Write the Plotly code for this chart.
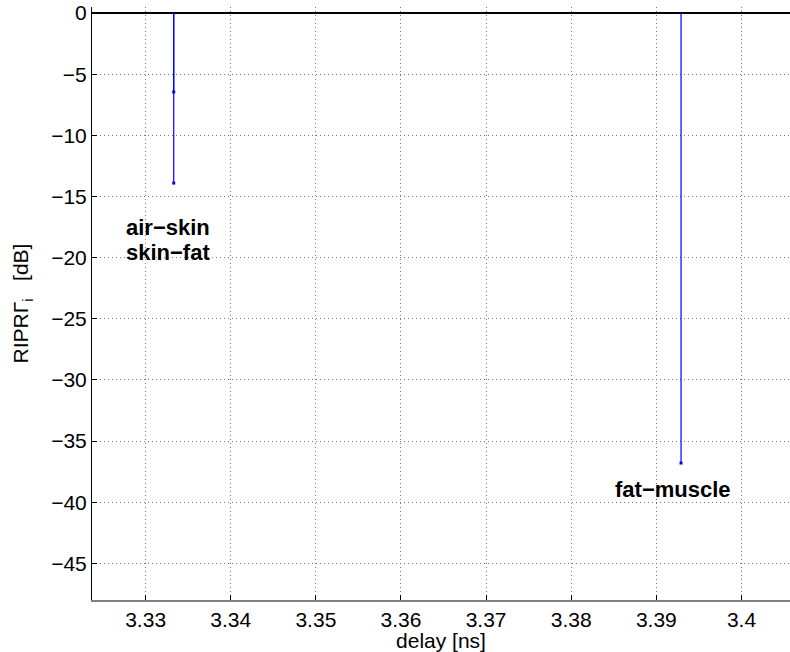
import plotly.graph_objects as go

# Interface reflections: delay [ns] and RIPR level [dB]
delays = [3.3333, 3.3333, 3.3929]
levels = [-6.45, -13.9, -36.8]

# Interface labels and where they sit (data coordinates)
label_text = ["air\u2212skin", "skin\u2212fat", "fat\u2212muscle"]
label_x = [3.3326, 3.3326, 3.3919]
label_y = [-17.5, -19.6, -39.0]

x_ticks = [3.33, 3.34, 3.35, 3.36, 3.37, 3.38, 3.39, 3.40]
x_tick_text = ["3.33", "3.34", "3.35", "3.36", "3.37", "3.38", "3.39", "3.4"]
y_ticks = [0, -5, -10, -15, -20, -25, -30, -35, -40, -45]

# stem segments from the baseline down to each level
sx, sy = [], []
for d, v in zip(delays, levels):
    sx += [d, d, None]
    sy += [0, v, None]

fig = go.Figure()
fig.add_trace(go.Scatter(x=sx, y=sy, mode="lines",
                         line=dict(color="#0000ff", width=1.2),
                         hoverinfo="skip", showlegend=False))
fig.add_trace(go.Scatter(x=delays, y=levels, mode="markers",
                         marker=dict(color="#0000ff", size=3, symbol="square"),
                         showlegend=False))

family = "Liberation Sans, Arial, Helvetica, sans-serif"
for t, x, y in zip(label_text, label_x, label_y):
    fig.add_annotation(x=x, y=y, text="<b>%s</b>" % t, showarrow=False,
                       font=dict(size=22, color="black", family=family))

axis_font = dict(size=21, color="black", family=family)
grid = dict(showgrid=True, gridcolor="#777777", griddash="1px,3px", gridwidth=1)

fig.update_layout(
    width=790, height=652,
    margin=dict(l=92, r=0, t=7, b=52),
    paper_bgcolor="white", plot_bgcolor="white",
    font=axis_font,
    xaxis=dict(range=[3.3237, 3.4057], tickvals=x_ticks, ticktext=x_tick_text,
               ticks="inside", ticklen=5, tickcolor="black",
               showline=True, linecolor="#808080", linewidth=2,
               zeroline=False, tickfont=axis_font,
               title=dict(text="delay [ns]", font=axis_font, standoff=0),
               **grid),
    yaxis=dict(range=[-48, 0.5], tickvals=y_ticks,
               ticks="inside", ticklen=5, tickcolor="black",
               showline=True, linecolor="black", linewidth=1,
               zeroline=True, zerolinecolor="black", zerolinewidth=2,
               tickfont=axis_font,
               title=dict(text="RIPR\u0393<sub>i</sub>   [dB]", font=axis_font, standoff=16),
               **grid),
)

fig.write_html("out.html")
